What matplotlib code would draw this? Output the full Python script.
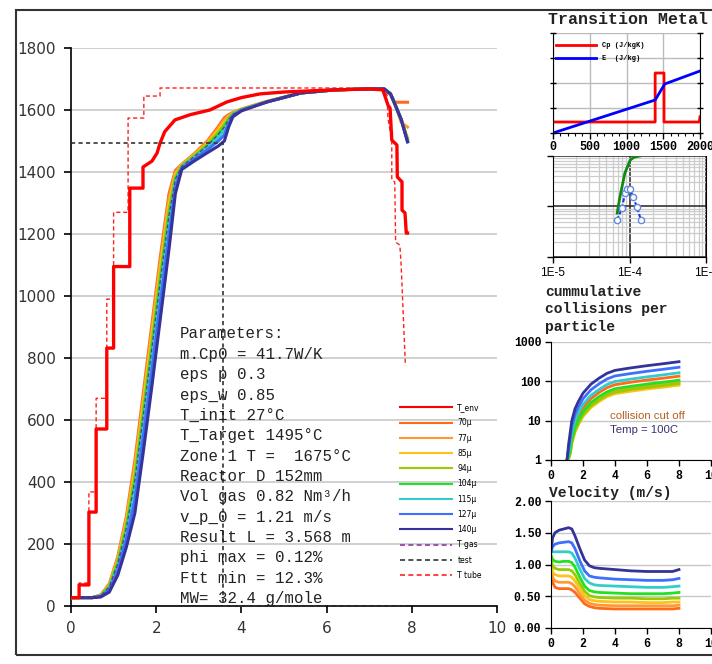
import matplotlib
matplotlib.use("Agg")
import matplotlib.pyplot as plt
from matplotlib.patches import Rectangle
from matplotlib.lines import Line2D
from matplotlib.ticker import LogLocator, NullFormatter, FixedLocator

W, H = 712, 664

# ---------------- main chart data ----------------
sizes = ["70µ", "77µ", "85µ", "94µ", "104µ", "115µ", "127µ", "140µ"]
size_colors = ["#FF6A1A", "#FF9A33", "#FFC21A", "#99CC00", "#22E022", "#33CCCC", "#3F6FFF", "#33339A"]

x_env = [0, 0.19, 0.19, 0.42, 0.42, 0.59, 0.59, 0.84, 0.84, 1.0, 1.0, 1.38, 1.38, 1.69, 1.69, 1.9, 2.02,
         2.09, 2.2, 2.44, 2.8, 3.26, 3.66, 4.0, 4.44, 5.0, 6.0, 7.0, 7.32, 7.44, 7.49, 7.53, 7.65, 7.66,
         7.77, 7.77, 7.84, 7.87, 7.9]
t_env = [27, 27, 68, 68, 303, 303, 571, 571, 832, 832, 1095, 1095, 1348, 1348, 1416, 1435, 1461,
         1493, 1530, 1568, 1585, 1600, 1626, 1640, 1652, 1658, 1664, 1668, 1665, 1616, 1606, 1503, 1487, 1384,
         1368, 1277, 1268, 1203, 1203]

x_tube = [0, 0.19, 0.19, 0.42, 0.42, 0.59, 0.59, 0.84, 0.84, 1.0, 1.0, 1.34, 1.34, 1.71, 1.71, 2.09, 2.09,
          7.3, 7.42, 7.44, 7.53, 7.53, 7.6, 7.62, 7.72, 7.75, 7.85]
t_tube = [27, 27, 74, 74, 368, 368, 670, 670, 990, 990, 1270, 1270, 1574, 1574, 1645, 1645, 1671,
          1671, 1648, 1574, 1503, 1374, 1368, 1174, 1164, 1100, 775]

x_test = [0, 3.57, 3.57, 7.85]
t_test = [1495, 1495, 0, 0]

x_part = [0, 0.5, 0.7, 0.9, 1.1, 1.3, 1.5, 1.7, 1.9, 2.1, 2.3, 2.45, 2.6, 2.9, 3.2, 3.45, 3.6, 3.7, 3.8,
          4.0, 4.6, 5.4, 6.2, 7.0, 7.35, 7.5, 7.6, 7.75, 7.9]
t_70 = [27, 27, 36, 72, 160, 290, 470, 690, 910, 1130, 1330, 1405, 1425, 1460, 1500, 1545, 1575, 1585, 1592,
        1603, 1628, 1655, 1665, 1668, 1668, 1650, 1625, 1625, 1625]
t_77 = [27, 27, 35, 69, 154, 280, 453, 671, 890, 1110, 1312, 1398, 1423, 1458, 1496, 1539, 1568, 1581, 1591,
        1602, 1627, 1655, 1665, 1668, 1668, 1651, 1622, 1560, 1545]
t_85 = [27, 27, 35, 67, 148, 270, 436, 652, 870, 1090, 1294, 1390, 1422, 1455, 1492, 1533, 1560, 1577, 1589,
        1602, 1627, 1655, 1665, 1668, 1668, 1652, 1620, 1568, 1510]
t_94 = [27, 27, 34, 64, 142, 260, 419, 633, 850, 1070, 1276, 1383, 1420, 1453, 1489, 1526, 1553, 1573, 1588,
        1601, 1627, 1655, 1665, 1668, 1668, 1652, 1620, 1570, 1505]
t_104 = [27, 27, 33, 61, 136, 250, 402, 614, 830, 1050, 1258, 1375, 1418, 1450, 1485, 1520, 1545, 1569, 1586,
         1601, 1626, 1655, 1665, 1668, 1668, 1652, 1620, 1570, 1503]
t_115 = [27, 27, 32, 57, 127, 235, 377, 586, 800, 1020, 1231, 1364, 1416, 1447, 1479, 1511, 1534, 1563, 1584,
         1600, 1626, 1655, 1665, 1668, 1668, 1652, 1620, 1570, 1500]
t_127 = [27, 27, 31, 52, 115, 215, 342, 548, 760, 980, 1195, 1349, 1412, 1442, 1472, 1499, 1519, 1555, 1582,
         1599, 1626, 1655, 1665, 1668, 1668, 1652, 1620, 1570, 1498]
t_140 = [27, 27, 29, 45, 100, 190, 300, 500, 710, 930, 1150, 1330, 1408, 1436, 1462, 1483, 1500, 1545, 1578,
         1597, 1626, 1655, 1665, 1668, 1668, 1652, 1620, 1570, 1497]
t_gas = [27, 27, 33, 62, 138, 252, 405, 618, 833, 1053, 1260, 1377, 1418, 1450, 1485, 1520, 1545, 1569, 1586,
         1601, 1626, 1655, 1665, 1668, 1668, 1652, 1620, 1570, 1503]
t_parts = [t_70, t_77, t_85, t_94, t_104, t_115, t_127, t_140]

params = ["Parameters:", "m.Cp0 = 41.7W/K", "eps p 0.3", "eps_w 0.85", "T_init 27°C",
          "T_Target 1495°C", "Zone 1 T =  1675°C", "Reactor D 152mm", "Vol gas 0.82 Nm³/h",
          "v_p_0 = 1.21 m/s", "Result L = 3.568 m", "phi max = 0.12%", "Ftt min = 12.3%",
          "MW= 32.4 g/mole"]

# ---------------- transition metal inset ----------------
tm_cp_x = [0, 1390, 1390, 1510, 1510, 1990, 2000]
tm_cp_y = [0.44, 0.44, 2.4, 2.4, 0.44, 0.44, 0.65]
tm_e_x = [0, 1390, 1520, 2000]
tm_e_y = [0.0, 1.32, 1.96, 2.48]

# ---------------- log-log inset ----------------
ll_green_x = [6.9e-5, 7.5e-5, 8.7e-5, 1.02e-4, 1.15e-4, 1.37e-4]
ll_green_y = [0.074, 0.155, 0.46, 0.83, 0.95, 1.0]
ll_blue_x = [6.87e-5, 7.98e-5, 8.73e-5, 9.27e-5, 1.016e-4, 1.11e-4, 1.25e-4, 1.41e-4]
ll_blue_y = [0.054, 0.093, 0.185, 0.222, 0.222, 0.154, 0.098, 0.054]

# ---------------- collisions inset ----------------
col_x = [1.0, 1.1, 1.2, 1.3, 1.5, 1.7, 2.0, 2.5, 3.0, 3.5, 4.0, 5.0, 6.0, 7.0, 8.0]
col_70 = [1, 1.3, 2.2, 4.3, 8.6, 13, 21.5, 36.5, 52, 69, 82, 95, 108, 120, 135]
col_77 = [1, 1.1, 1.6, 3.0, 6.0, 9.0, 15, 25.5, 36, 48, 57, 66, 75, 84, 95]
col_85 = [1, 1.05, 1.4, 2.6, 5.1, 7.7, 12.8, 21.7, 30.6, 40.8, 48.5, 56, 64, 71, 80]
col_94 = [1, 1.1, 1.5, 2.8, 5.6, 8.4, 14, 23.8, 33.6, 44.8, 53, 62, 70, 78, 88]
col_104 = [1, 1.2, 1.7, 3.4, 6.8, 10.2, 17, 29, 41, 54, 65, 75, 85, 95, 107]
col_115 = [1, 1.5, 2.6, 5.2, 10.4, 15.6, 26, 44, 62, 83, 99, 114, 130, 146, 165]
col_127 = [1, 1.9, 3.6, 7.2, 14.4, 21.6, 36, 61, 86, 115, 137, 158, 180, 202, 228]
col_140 = [1, 2.5, 5, 10, 20, 30, 50, 85, 120, 160, 190, 220, 250, 280, 316]
col_all = [col_70, col_77, col_85, col_94, col_104, col_115, col_127, col_140]

# ---------------- velocity inset ----------------
vel_x = [0, 0.1, 0.25, 0.5, 0.8, 1.1, 1.3, 1.5, 1.8, 2.1, 2.4, 2.7, 3.0, 4.0, 5.0, 6.0, 7.0, 7.6, 8.0]
vel_70 = [0.95, 0.72, 0.64, 0.62, 0.62, 0.62, 0.60, 0.56, 0.47, 0.38, 0.34, 0.32, 0.31, 0.30, 0.30, 0.30, 0.30, 0.30, 0.31]
vel_77 = [1.0, 0.8, 0.74, 0.72, 0.72, 0.72, 0.70, 0.65, 0.54, 0.44, 0.39, 0.37, 0.36, 0.35, 0.35, 0.35, 0.35, 0.35, 0.36]
vel_85 = [1.05, 0.88, 0.84, 0.82, 0.82, 0.82, 0.80, 0.74, 0.62, 0.51, 0.45, 0.43, 0.42, 0.41, 0.41, 0.40, 0.40, 0.41, 0.41]
vel_94 = [1.1, 0.98, 0.94, 0.92, 0.92, 0.92, 0.90, 0.84, 0.70, 0.58, 0.51, 0.49, 0.48, 0.47, 0.47, 0.46, 0.46, 0.47, 0.47]
vel_104 = [1.15, 1.08, 1.05, 1.04, 1.05, 1.05, 1.03, 0.96, 0.80, 0.66, 0.59, 0.57, 0.56, 0.55, 0.54, 0.54, 0.54, 0.55, 0.56]
vel_115 = [1.2, 1.2, 1.2, 1.2, 1.2, 1.2, 1.18, 1.10, 0.93, 0.78, 0.71, 0.68, 0.67, 0.66, 0.65, 0.64, 0.64, 0.65, 0.66]
vel_127 = [1.2, 1.28, 1.32, 1.34, 1.35, 1.36, 1.34, 1.25, 1.06, 0.90, 0.82, 0.80, 0.79, 0.77, 0.76, 0.75, 0.75, 0.76, 0.78]
vel_140 = [1.2, 1.42, 1.50, 1.54, 1.56, 1.58, 1.56, 1.45, 1.25, 1.07, 0.98, 0.95, 0.94, 0.92, 0.90, 0.89, 0.89, 0.89, 0.92]
vel_all = [vel_70, vel_77, vel_85, vel_94, vel_104, vel_115, vel_127, vel_140]


def fx(px):
    return px / W


def fy(py):
    return 1 - py / H


def box(l, t, r, b):
    # pixel box -> figure rect
    return [fx(l), fy(b), (r - l) / W, (b - t) / H]


fig = plt.figure(figsize=(W / 100, H / 100), dpi=100)
fig.patch.set_facecolor("white")

# outer frame
fig.patches.append(Rectangle((fx(16), fy(655)), 1.2, (655 - 10) / H, transform=fig.transFigure,
                             fill=False, edgecolor="#333333", linewidth=1.5))

mono = "Liberation Mono"

# ---------------- main axes ----------------
ax = fig.add_axes(box(71, 48, 497, 606))
ax.set_xlim(0, 10)
ax.set_ylim(0, 1800)
for s in ["top", "right"]:
    ax.spines[s].set_visible(False)
for s in ["left", "bottom"]:
    ax.spines[s].set_linewidth(1.2)
ax.set_yticks(range(0, 1801, 200))
ax.set_xticks(range(0, 11, 2))
ax.tick_params(direction="out", length=5, width=1.2, labelsize=11, labelcolor="#333333", pad=6)
ax.yaxis.grid(True, color="#c8c8c8", linewidth=1.2)
ax.set_axisbelow(True)

ax.plot(x_tube, t_tube, color="#FF2020", linestyle=(0, (3, 2)), linewidth=1.0, zorder=3)
ax.plot(x_test, t_test, color="#333333", linestyle=(0, (2.5, 2)), linewidth=1.2, zorder=7, clip_on=False)
for t, c in zip(t_parts, size_colors):
    ax.plot(x_part, t, color=c, linewidth=2.2, zorder=4)
ax.plot(x_part, t_gas, color="#7A2A8A", linestyle=(0, (3, 2)), linewidth=0.9, zorder=5)
ax.plot(x_env, t_env, color="#FF0000", linewidth=2.4, zorder=6)

handles = [Line2D([], [], color="#FF0000", linewidth=1.5)]
handles += [Line2D([], [], color=c, linewidth=1.5) for c in size_colors]
handles += [Line2D([], [], color="#9933AA", linestyle=(0, (3, 2)), linewidth=1.2),
            Line2D([], [], color="#333333", linestyle=(0, (3, 2)), linewidth=1.2),
            Line2D([], [], color="#FF2020", linestyle=(0, (3, 2)), linewidth=1.2)]
labels = ["T_env"] + sizes + ["T gas", "test", "T tube"]
leg = ax.legend(handles, labels, loc="upper left", bbox_to_anchor=(fx(400), fy(403)),
                bbox_transform=fig.transFigure, frameon=False, fontsize=5.5, handlelength=6.8,
                handletextpad=0.7, labelspacing=0.82, borderpad=0, borderaxespad=0)

for i, line in enumerate(params):
    fig.text(fx(180), fy(334 + 20.35 * i), line, family=mono, fontsize=11.3, color="#222222",
             va="center", ha="left")

# ---------------- transition metal inset ----------------
fig.text(fx(548), fy(20), "Transition Metal", family=mono, weight="bold", fontsize=12,
         va="center", ha="left", color="#222222")
a1 = fig.add_axes(box(553, 33, 700, 133))
a1.set_xlim(0, 2000)
a1.set_ylim(0, 4)
a1.spines["top"].set_visible(False)
a1.set_xticks([0, 500, 1000, 1500, 2000])
a1.xaxis.set_minor_locator(FixedLocator(range(0, 2001, 100)))
a1.set_yticks([0, 1, 2, 3, 4])
a1.set_yticklabels([])
a1.tick_params(axis="y", left=True, right=True, direction="inout", length=5, width=1)
a1.tick_params(axis="x", which="major", direction="out", length=4, width=1, labelsize=8.5, pad=2)
a1.tick_params(axis="x", which="minor", direction="out", length=2, width=0.8)
for lab in a1.get_xticklabels():
    lab.set_family(mono)
    lab.set_weight("bold")
a1.grid(True, which="major", color="#bbbbbb", linewidth=1)
a1.set_axisbelow(True)
a1.plot(tm_cp_x, tm_cp_y, color="#FF0000", linewidth=2, label="Cp (J/kgK)")
a1.plot(tm_e_x, tm_e_y, color="#0000FF", linewidth=2, label="E  (J/kg)")
l1 = a1.legend(loc="upper left", bbox_to_anchor=(fx(556), fy(42)), bbox_transform=fig.transFigure,
               frameon=False, handlelength=5.8, borderpad=0, borderaxespad=0,
               labelspacing=0.9, handletextpad=0.8, prop={"family": mono, "weight": "bold", "size": 5})

# ---------------- log-log inset ----------------
a2 = fig.add_axes(box(553, 156, 706, 257))
a2.set_xscale("log")
a2.set_yscale("log")
a2.set_xlim(1e-5, 1e-3)
a2.set_ylim(1e-2, 1)
a2.spines["top"].set_visible(False)
a2.xaxis.set_major_locator(FixedLocator([1e-5, 1e-4, 1e-3]))
a2.set_xticklabels(["1E-5", "1E-4", "1E-3"], family="Liberation Sans", fontsize=8.5)
a2.yaxis.set_major_locator(FixedLocator([1e-2, 1e-1, 1]))
a2.yaxis.set_major_formatter(NullFormatter())
a2.xaxis.set_minor_locator(LogLocator(base=10, subs=range(2, 10)))
a2.yaxis.set_minor_locator(LogLocator(base=10, subs=range(2, 10)))
a2.xaxis.set_minor_formatter(NullFormatter())
a2.yaxis.set_minor_formatter(NullFormatter())
a2.tick_params(which="minor", length=0)
a2.tick_params(which="major", direction="out", length=4, width=1, pad=3)
a2.grid(True, which="minor", color="#cccccc", linewidth=0.9)
a2.grid(True, which="major", color="#333333", linewidth=1.2)
a2.set_axisbelow(True)
a2.plot(ll_green_x, ll_green_y, color="#118811", linewidth=2)
a2.plot(ll_blue_x, ll_blue_y, color="#1133EE", linewidth=1.5, linestyle=(0, (2, 1)),
        marker="o", markersize=4.5, markerfacecolor="white", markeredgecolor="#6688DD", markeredgewidth=1)

# ---------------- collisions inset ----------------
for i, line in enumerate(["cummulative", "collisions per", "particle"]):
    fig.text(fx(545), fy(292 + 17.5 * i), line, family=mono, weight="bold", fontsize=10.5,
             color="#222222", va="center", ha="left")
a3 = fig.add_axes(box(551, 342, 711, 460))
a3.set_yscale("log")
a3.set_xlim(0, 10)
a3.set_ylim(1, 1000)
a3.spines["top"].set_visible(False)
a3.spines["right"].set_visible(False)
a3.set_yticks([1, 10, 100, 1000])
a3.set_yticklabels(["1", "10", "100", "1000"])
a3.yaxis.set_minor_locator(FixedLocator([]))
a3.set_xticks(range(0, 11, 2))
a3.tick_params(direction="out", length=4, width=1, labelsize=8.3, pad=3)
for lab in a3.get_xticklabels() + a3.get_yticklabels():
    lab.set_family(mono)
    lab.set_weight("bold")
a3.yaxis.grid(True, color="#c8c8c8", linewidth=1)
a3.set_axisbelow(True)
for v, c in zip(col_all, size_colors):
    a3.plot(col_x, v, color=c, linewidth=2)
a3.text(3.7, 13.5, "collision cut off", family="Liberation Sans", fontsize=8.2, color="#B35F1E",
        va="center", ha="left")
a3.text(3.7, 5.9, "Temp = 100C", family="Liberation Sans", fontsize=8.2, color="#3A2F6E",
        va="center", ha="left")

# ---------------- velocity inset ----------------
fig.text(fx(549), fy(493), "Velocity (m/s)", family=mono, weight="bold", fontsize=10.5,
         color="#222222", va="center", ha="left")
a4 = fig.add_axes(box(551, 501, 711, 628))
a4.set_xlim(0, 10)
a4.set_ylim(0, 2)
a4.spines["top"].set_visible(False)
a4.spines["right"].set_visible(False)
a4.set_yticks([0, 0.5, 1.0, 1.5, 2.0])
a4.set_yticklabels(["0.00", "0.50", "1.00", "1.50", "2.00"])
a4.set_xticks(range(0, 11, 2))
a4.tick_params(direction="out", length=4, width=1, labelsize=8.3, pad=3)
for lab in a4.get_xticklabels() + a4.get_yticklabels():
    lab.set_family(mono)
    lab.set_weight("bold")
a4.yaxis.grid(True, color="#c8c8c8", linewidth=1)
a4.set_axisbelow(True)
for v, c in zip(vel_all, size_colors):
    a4.plot(vel_x, v, color=c, linewidth=2)

fig.savefig("out.png", dpi=100)
